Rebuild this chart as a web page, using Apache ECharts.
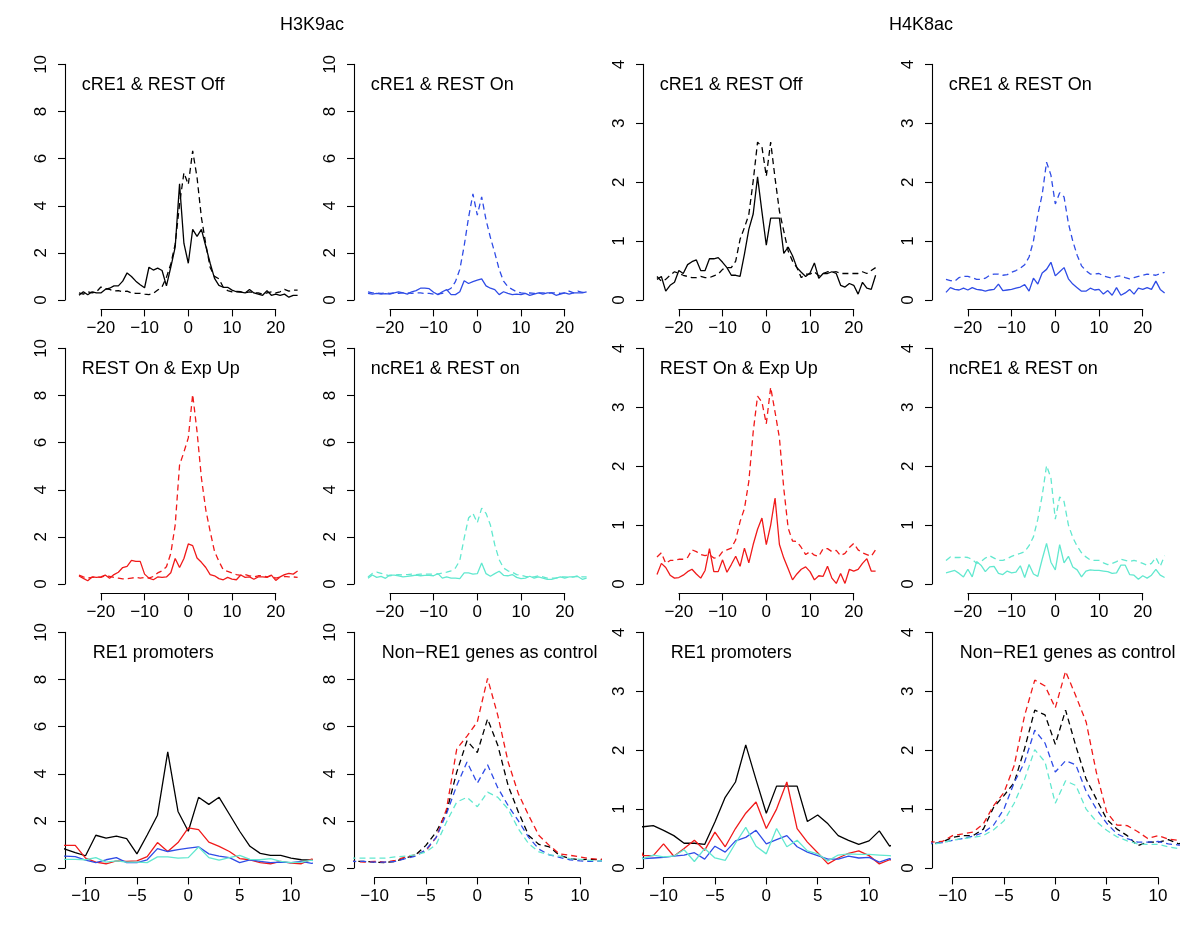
<!DOCTYPE html>
<html><head><meta charset="utf-8">
<script src="https://cdn.jsdelivr.net/npm/echarts@6/dist/echarts.min.js"></script>
<style>html,body{margin:0;padding:0;background:#fff}#c{width:1200px;height:928px}</style>
</head><body><div id="c"></div>
<script>
// ---------- DATA ----------
const xPos = [-25,-24,-23,-22,-21,-20,-19,-18,-17,-16,-15,-14,-13,-12,-11,-10,-9,-8,-7,-6,-5,-4,-3,-2,-1,0,1,2,3,4,5,6,7,8,9,10,11,12,13,14,15,16,17,18,19,20,21,22,23,24,25];

// H3K9ac
const h3OffSolid = [0.2,0.35,0.22,0.35,0.3,0.3,0.45,0.5,0.6,0.6,0.8,1.15,1.0,0.8,0.65,0.52,1.39,1.27,1.35,1.25,0.6,1.4,2.24,4.93,2.4,1.56,3.0,2.7,3.0,2.28,1.56,0.92,0.62,0.54,0.54,0.42,0.35,0.33,0.3,0.45,0.3,0.25,0.2,0.4,0.2,0.25,0.2,0.25,0.12,0.2,0.2];
const h3OffDash  = [0.3,0.25,0.35,0.3,0.35,0.55,0.48,0.45,0.38,0.4,0.35,0.38,0.3,0.28,0.28,0.25,0.23,0.28,0.42,0.56,0.96,1.53,2.37,4.07,5.4,4.9,6.33,5.2,3.5,2.37,1.38,1.0,0.9,0.54,0.4,0.35,0.37,0.35,0.3,0.35,0.3,0.3,0.25,0.3,0.35,0.3,0.35,0.45,0.38,0.42,0.42];
const h3OnSolid  = [0.28,0.25,0.28,0.25,0.27,0.25,0.3,0.35,0.3,0.25,0.35,0.4,0.5,0.5,0.48,0.33,0.23,0.35,0.44,0.23,0.23,0.35,0.82,0.7,0.78,0.84,0.9,0.6,0.5,0.44,0.23,0.35,0.28,0.23,0.25,0.23,0.28,0.2,0.25,0.3,0.25,0.3,0.3,0.2,0.25,0.3,0.25,0.3,0.3,0.3,0.35];
const h3OnDash   = [0.35,0.3,0.3,0.28,0.3,0.28,0.3,0.28,0.3,0.3,0.28,0.3,0.3,0.28,0.28,0.25,0.25,0.28,0.4,0.5,0.78,1.3,2.3,3.5,4.5,3.6,4.38,3.4,2.65,2.0,1.3,0.8,0.56,0.45,0.35,0.3,0.28,0.3,0.28,0.3,0.3,0.28,0.3,0.3,0.28,0.3,0.38,0.3,0.38,0.32,0.35];
const h3UpSolid  = [0.34,0.24,0.14,0.3,0.28,0.3,0.38,0.24,0.4,0.5,0.7,0.75,1.0,0.96,0.96,0.42,0.25,0.18,0.3,0.28,0.3,0.48,1.08,0.7,1.08,1.7,1.63,1.1,0.92,0.7,0.4,0.35,0.23,0.18,0.28,0.21,0.18,0.38,0.28,0.3,0.2,0.3,0.3,0.28,0.38,0.15,0.3,0.4,0.45,0.42,0.55];
const h3UpDash   = [0.38,0.3,0.25,0.28,0.3,0.28,0.35,0.32,0.28,0.25,0.22,0.22,0.25,0.28,0.25,0.28,0.25,0.32,0.47,0.56,0.73,1.3,2.5,5.05,5.6,6.2,8.05,6.47,4.5,3.15,2.23,1.38,0.96,0.6,0.54,0.47,0.4,0.37,0.4,0.35,0.3,0.35,0.35,0.3,0.35,0.25,0.3,0.32,0.3,0.3,0.28];
const h3NcSolid  = [0.24,0.38,0.28,0.32,0.24,0.38,0.38,0.35,0.3,0.32,0.35,0.38,0.35,0.37,0.37,0.35,0.44,0.25,0.3,0.25,0.25,0.23,0.47,0.47,0.42,0.44,0.89,0.44,0.33,0.44,0.54,0.37,0.35,0.4,0.28,0.23,0.25,0.33,0.25,0.3,0.25,0.2,0.2,0.25,0.3,0.25,0.3,0.3,0.32,0.2,0.25];
const h3NcDash   = [0.3,0.45,0.5,0.45,0.4,0.35,0.38,0.4,0.38,0.4,0.42,0.4,0.42,0.42,0.42,0.42,0.42,0.47,0.5,0.56,0.68,1.0,1.95,2.8,3.0,2.6,3.22,3.0,2.5,1.66,1.03,0.68,0.56,0.5,0.4,0.37,0.32,0.3,0.3,0.35,0.3,0.25,0.25,0.25,0.3,0.3,0.28,0.3,0.35,0.3,0.3];

// H4K8ac
const h4OffSolid = [0.35,0.4,0.15,0.25,0.3,0.5,0.45,0.6,0.65,0.68,0.5,0.5,0.7,0.7,0.72,0.64,0.55,0.42,0.42,0.4,0.78,1.2,1.46,2.09,1.5,0.93,1.39,1.39,1.39,0.79,0.9,0.75,0.55,0.47,0.4,0.46,0.63,0.37,0.45,0.45,0.48,0.45,0.25,0.22,0.28,0.25,0.1,0.3,0.2,0.18,0.42];
const h4OffDash  = [0.4,0.32,0.35,0.42,0.48,0.45,0.42,0.4,0.38,0.38,0.4,0.38,0.38,0.41,0.44,0.52,0.55,0.55,0.66,1.03,1.23,1.45,2.02,2.68,2.6,2.1,2.68,2.07,1.51,1.17,0.83,0.66,0.55,0.38,0.44,0.44,0.48,0.41,0.45,0.48,0.47,0.48,0.45,0.45,0.45,0.45,0.45,0.48,0.45,0.5,0.55];
const h4OnSolid  = [0.13,0.21,0.18,0.17,0.2,0.17,0.21,0.18,0.17,0.15,0.17,0.18,0.27,0.16,0.17,0.18,0.2,0.22,0.26,0.15,0.37,0.27,0.46,0.52,0.64,0.41,0.48,0.55,0.36,0.27,0.21,0.15,0.15,0.2,0.17,0.18,0.1,0.16,0.08,0.21,0.08,0.12,0.18,0.1,0.2,0.18,0.21,0.18,0.32,0.18,0.12];
const h4OnDash   = [0.35,0.33,0.32,0.38,0.4,0.4,0.38,0.35,0.35,0.37,0.42,0.44,0.44,0.42,0.43,0.47,0.5,0.54,0.6,0.73,1.0,1.45,1.79,2.34,2.12,1.63,1.82,1.75,1.3,1.0,0.76,0.58,0.5,0.44,0.44,0.45,0.41,0.39,0.37,0.4,0.41,0.38,0.36,0.38,0.4,0.42,0.44,0.43,0.42,0.45,0.47];
const h4UpSolid  = [0.16,0.35,0.28,0.15,0.1,0.11,0.15,0.21,0.25,0.17,0.1,0.23,0.6,0.21,0.21,0.41,0.2,0.33,0.47,0.3,0.61,0.36,0.67,0.93,1.12,0.67,1.0,1.46,0.67,0.44,0.26,0.07,0.17,0.25,0.29,0.21,0.07,0.14,0.13,0.3,0.1,0.01,0.18,0.01,0.25,0.22,0.25,0.35,0.43,0.22,0.22];
const h4UpDash   = [0.46,0.53,0.35,0.4,0.4,0.42,0.42,0.45,0.58,0.55,0.5,0.48,0.5,0.44,0.45,0.55,0.58,0.61,0.75,1.06,1.28,1.74,2.58,3.19,3.09,2.72,3.34,2.92,2.48,1.62,0.95,0.73,0.72,0.62,0.5,0.55,0.49,0.47,0.6,0.6,0.55,0.57,0.48,0.52,0.62,0.69,0.58,0.53,0.5,0.47,0.58];
const h4NcSolid  = [0.19,0.21,0.23,0.18,0.12,0.25,0.12,0.38,0.32,0.21,0.29,0.3,0.18,0.16,0.22,0.19,0.2,0.31,0.11,0.33,0.17,0.13,0.42,0.69,0.37,0.24,0.67,0.36,0.47,0.29,0.24,0.12,0.22,0.24,0.23,0.23,0.22,0.21,0.18,0.19,0.32,0.32,0.16,0.15,0.08,0.14,0.1,0.15,0.25,0.15,0.11];
const h4NcDash   = [0.4,0.46,0.45,0.45,0.46,0.45,0.42,0.35,0.38,0.44,0.48,0.44,0.4,0.4,0.43,0.47,0.5,0.52,0.55,0.65,0.8,1.1,1.5,2.01,1.8,1.1,1.48,1.4,1.0,0.79,0.64,0.53,0.46,0.41,0.4,0.4,0.36,0.33,0.35,0.38,0.42,0.4,0.38,0.4,0.38,0.35,0.32,0.35,0.45,0.3,0.48];

const headings = ['H3K9ac', 'H4K8ac'];
const yTicksH3 = [0, 10, 2];   // min, max, interval
const yTicksH4 = [0, 4, 1];
const xTicksWide = [-20, 20, 10];
const xTicksZoom = [-10, 10, 5];

// ---------- STYLE / LAYOUT ----------
const BLACK = '#000000', BLUE = '#2f4ce6', RED = '#f01a1a', CYAN = '#62e8cf';
const FONT = 'Liberation Sans, Arial, Helvetica, sans-serif';
const colC = [188.3, 477.3, 766.3, 1055.3];
const rowY0 = [300, 584, 868];
const PH = 235.6;       // pixel height from 0 to max
const HALFW = 123.3;    // pixel half width of plot region

const panels = [
  {r:0,c:0,title:'cRE1 & REST Off',y:yTicksH3,lines:[[h3OffSolid,BLACK,'solid'],[h3OffDash,BLACK,'dashed']]},
  {r:0,c:1,title:'cRE1 & REST On', y:yTicksH3,lines:[[h3OnSolid,BLUE,'solid'],[h3OnDash,BLUE,'dashed']]},
  {r:0,c:2,title:'cRE1 & REST Off',y:yTicksH4,lines:[[h4OffSolid,BLACK,'solid'],[h4OffDash,BLACK,'dashed']]},
  {r:0,c:3,title:'cRE1 & REST On', y:yTicksH4,lines:[[h4OnSolid,BLUE,'solid'],[h4OnDash,BLUE,'dashed']]},
  {r:1,c:0,title:'REST On & Exp Up',y:yTicksH3,lines:[[h3UpSolid,RED,'solid'],[h3UpDash,RED,'dashed']]},
  {r:1,c:1,title:'ncRE1 & REST on', y:yTicksH3,lines:[[h3NcSolid,CYAN,'solid'],[h3NcDash,CYAN,'dashed']]},
  {r:1,c:2,title:'REST On & Exp Up',y:yTicksH4,lines:[[h4UpSolid,RED,'solid'],[h4UpDash,RED,'dashed']]},
  {r:1,c:3,title:'ncRE1 & REST on', y:yTicksH4,lines:[[h4NcSolid,CYAN,'solid'],[h4NcDash,CYAN,'dashed']]},
  {r:2,c:0,title:'RE1 promoters',y:yTicksH3,lines:[[h3OffSolid,BLACK,'solid'],[h3UpSolid,RED,'solid'],[h3OnSolid,BLUE,'solid'],[h3NcSolid,CYAN,'solid']]},
  {r:2,c:1,title:'Non\u2212RE1 genes as control',y:yTicksH3,lines:[[h3OffDash,BLACK,'dashed'],[h3UpDash,RED,'dashed'],[h3OnDash,BLUE,'dashed'],[h3NcDash,CYAN,'dashed']]},
  {r:2,c:2,title:'RE1 promoters',y:yTicksH4,lines:[[h4OffSolid,BLACK,'solid'],[h4UpSolid,RED,'solid'],[h4OnSolid,BLUE,'solid'],[h4NcSolid,CYAN,'solid']]},
  {r:2,c:3,title:'Non\u2212RE1 genes as control',y:yTicksH4,lines:[[h4OffDash,BLACK,'dashed'],[h4UpDash,RED,'dashed'],[h4OnDash,BLUE,'dashed'],[h4NcDash,CYAN,'dashed']]}
];

const minus = v => String(v).replace('-', '\u2212');
const grid = [], xAxis = [], yAxis = [], series = [], title = [];

title.push({text: headings[0], left: 280, top: 16, padding: 0, textStyle:{fontFamily:FONT,fontSize:18,fontWeight:'normal',color:'#000',lineHeight:18}});
title.push({text: headings[1], left: 889, top: 16, padding: 0, textStyle:{fontFamily:FONT,fontSize:18,fontWeight:'normal',color:'#000',lineHeight:18}});

panels.forEach(p => {
  const c = colC[p.c], y0 = rowY0[p.r];
  const zoom = p.r === 2;
  const xr = zoom ? 12 : 28.2;
  const xt = zoom ? xTicksZoom : xTicksWide;
  const pxu = HALFW / xr;
  const M = p.y[1];
  // main plotting grid (R plot region with 4% extension)
  const gi = grid.length;
  grid.push({left: c - HALFW, width: 2*HALFW, top: y0 - PH*1.04, height: PH*1.08, containLabel:false});
  xAxis.push({type:'value', gridIndex:gi, min:-xr, max:xr, show:false});
  yAxis.push({type:'value', gridIndex:gi, min:-0.04*M, max:1.04*M, show:false});
  p.lines.forEach(([arr,col,lt]) => {
    series.push({type:'line', xAxisIndex:gi, yAxisIndex:gi, showSymbol:false, symbol:'none', clip:true, silent:true,
      data: xPos.map((x,i)=>[x, arr[i]]),
      lineStyle:{color:col, width:1.3, type: lt==='dashed' ? [6,4] : 'solid'}});
  });
  // y axis display grid
  const yi = grid.length;
  grid.push({left: c - HALFW, width: 2*HALFW, top: y0 - PH, height: PH});
  xAxis.push({type:'value', gridIndex:yi, show:false, min:0, max:1});
  yAxis.push({type:'value', gridIndex:yi, min:p.y[0], max:M, interval:p.y[2], position:'left',
    axisLine:{show:true, lineStyle:{color:'#000', width:1.1}},
    axisTick:{show:true, inside:false, length:7, lineStyle:{color:'#000', width:1.1}},
    axisLabel:{show:true, rotate:90, margin:15, color:'#000', fontFamily:FONT, fontSize:17, formatter: v => minus(v)},
    splitLine:{show:false}});
  // x axis display grid
  const xi = grid.length;
  const axisY = y0 + 0.04*PH;
  grid.push({left: c + xt[0]*pxu, width: (xt[1]-xt[0])*pxu, top: axisY - 1, height: 1});
  xAxis.push({type:'value', gridIndex:xi, min:xt[0], max:xt[1], interval:xt[2], position:'bottom',
    axisLine:{show:true, onZero:false, lineStyle:{color:'#000', width:1.1}},
    axisTick:{show:true, inside:false, length:7, lineStyle:{color:'#000', width:1.1}},
    axisLabel:{show:true, margin:10, color:'#000', fontFamily:FONT, fontSize:17, formatter: v => minus(v)},
    splitLine:{show:false}});
  yAxis.push({type:'value', gridIndex:xi, show:false, min:0, max:1});
  // panel title
  title.push({text:p.title, left: c - (zoom ? 95.5 : 106.5), top: y0 - 223.5, padding:0,
    textStyle:{fontFamily:FONT, fontSize:18, fontWeight:'normal', color:'#000', lineHeight:18}});
});

const chart = echarts.init(document.getElementById('c'), null, {renderer:'canvas'});
chart.setOption({animation:false, backgroundColor:'#fff', title, grid, xAxis, yAxis, series});
</script></body></html>
